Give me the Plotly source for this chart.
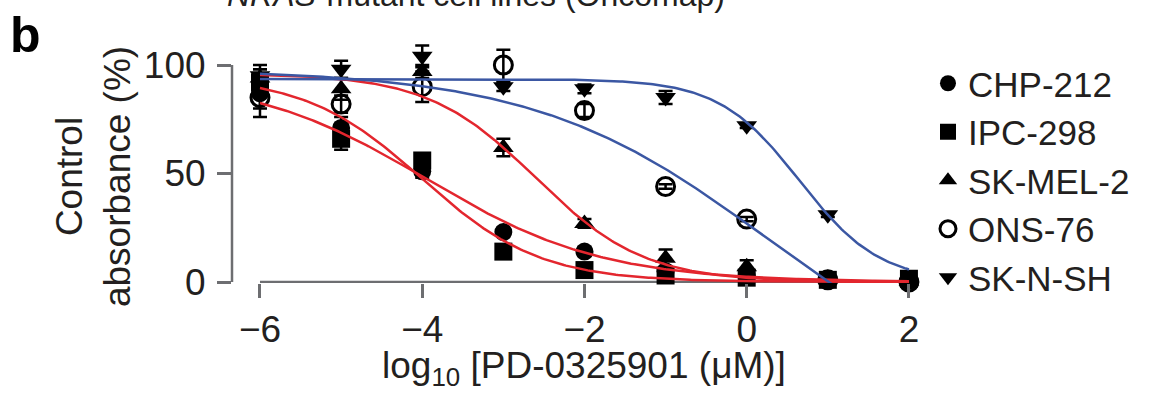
import numpy as np
import plotly.graph_objects as go

# ---- data ----
log_conc = [-6, -5, -4, -3, -2, -1, 0, 1, 2]

series_names = ["CHP-212", "IPC-298", "SK-MEL-2", "ONS-76", "SK-N-SH"]

chp212 = [87, 71, 51, 23, 14, 5, 3, 1.5, 0.5]
chp212_err = [7, 5, 3, 2, 2, 1, 1, 1, 1]

ipc298 = [92, 66, 56, 14, 5.5, 3, 2, 1, 1.5]
ipc298_err = [6, 5, 3, 2, 1, 1, 1, 1, 1]

skmel2 = [94, 89, 97, 62, 27, 11, 7, 1.5, 0.5]
skmel2_err = [6, 5, 3, 4, 2, 4, 3, 1, 1]

ons76 = [85, 82, 90, 100, 79, 44, 29, 1, 0]
ons76_err = [9, 4, 7, 7, 3, 1, 1, 1, 1]

sknsh = [95, 98, 104, 90, 89, 85, 72, 31, -2]
sknsh_err = [3, 4, 5, 2, 2, 3, 1, 1, 2]

# four-parameter logistic fit parameters: top, bottom, logIC50, hill
fit_top = [95, 95, 96, 98, 93.5]
fit_bottom = [0, 0, 0, -60, 0]
fit_logic50 = [-3.95, -4.0, -2.6, 0.29, 0.65]
fit_hill = [0.4, 0.6, 0.65, 0.3, 0.875]

x_ticks = [-6, -4, -2, 0, 2]
y_ticks = [0, 50, 100]

RED = "#e3262e"
BLUE = "#3b57a3"
curve_colors = [RED, RED, RED, BLUE, BLUE]
symbols = ["circle", "square", "triangle-up", "circle-open", "triangle-down"]
values = [chp212, ipc298, skmel2, ons76, sknsh]
errors = [chp212_err, ipc298_err, skmel2_err, ons76_err, sknsh_err]

FONT = "Liberation Sans, Arial, Helvetica, sans-serif"
INK = "#231f20"
AXIS = "#6d6e71"

# plot area: bottom at 283 px, top at 10 px
T_PX, B_PX = 10, 283
H_PX = B_PX - T_PX


def py(px):
    return (B_PX - px) / H_PX


fig = go.Figure()

for name, sym, v, e in zip(series_names, symbols, values, errors):
    fig.add_trace(go.Scatter(
        x=log_conc, y=v, mode="markers", name=name,
        marker=dict(symbol=sym, size=18, color="black",
                    line=dict(color="black", width=3 if sym == "circle-open" else 0)),
        error_y=dict(type="data", array=e, visible=True, color="black",
                     thickness=2.5, width=7),
        cliponaxis=False,
    ))

xs = np.linspace(-6, 2, 300)
for i in range(len(series_names)):
    ys = fit_bottom[i] + (fit_top[i] - fit_bottom[i]) / (1 + 10 ** ((xs - fit_logic50[i]) * fit_hill[i]))
    fig.add_trace(go.Scatter(
        x=xs, y=ys, mode="lines", showlegend=False, hoverinfo="skip",
        line=dict(color=curve_colors[i], width=2.5),
    ))

# detached axis lines
fig.add_shape(type="line", xref="x", yref="y", x0=-6, x1=2, y0=0, y1=0,
              line=dict(color=AXIS, width=2.5), layer="below")
fig.add_shape(type="line", xref="paper", yref="y", x0=0, x1=0, y0=0, y1=100,
              line=dict(color=AXIS, width=2.5), layer="below")

fig.update_layout(
    width=1152, height=394,
    margin=dict(l=232, r=239, t=T_PX, b=394 - B_PX),
    paper_bgcolor="white", plot_bgcolor="white",
    font=dict(family=FONT, size=37, color=INK),
    showlegend=True,
    legend=dict(x=1.022, y=py(54), xanchor="left", yanchor="top",
                font=dict(size=35, family=FONT, color=INK),
                bgcolor="rgba(0,0,0,0)", itemsizing="trace"),
    xaxis=dict(range=[-6.345, 2.05], tickvals=x_ticks,
               ticktext=["\u22126", "\u22124", "\u22122", "0", "2"],
               ticks="outside", ticklen=14, tickwidth=2.5, tickcolor=AXIS,
               showline=False, showgrid=False, zeroline=False,
               tickfont=dict(size=37, family=FONT, color=INK)),
    yaxis=dict(range=[-0.46, (282 - T_PX) / 2.17], tickvals=y_ticks,
               ticks="outside", ticklen=14, tickwidth=2.5, tickcolor=AXIS,
               showline=False, showgrid=False, zeroline=False,
               ticklabelstandoff=4,
               tickfont=dict(size=37, family=FONT, color=INK)),
)

fig.add_annotation(x=-2, xref="x", y=py(368), yref="paper",
                   text="log<sub>10</sub> [PD-0325901 (\u03bcM)]",
                   showarrow=False, xanchor="center", yanchor="middle",
                   font=dict(size=37, family=FONT, color=INK))
fig.add_annotation(x=-0.204, xref="paper", y=py(177), yref="paper",
                   text="Control<br>absorbance (%)", textangle=-90,
                   showarrow=False, xanchor="center", yanchor="middle",
                   font=dict(size=37, family=FONT, color=INK))
fig.add_annotation(x=(476 - 232) / 681, xref="paper", y=py(-5), yref="paper",
                   text="<i>NRAS</i>-mutant cell lines (Oncomap)",
                   showarrow=False, xanchor="center", yanchor="middle",
                   font=dict(size=32, family=FONT, color=INK))
fig.add_annotation(x=-0.303, xref="paper", y=py(35), yref="paper",
                   text="<b>b</b>", showarrow=False,
                   xanchor="center", yanchor="middle",
                   font=dict(size=50, family=FONT, color="black"))

fig.write_html("out.html")
